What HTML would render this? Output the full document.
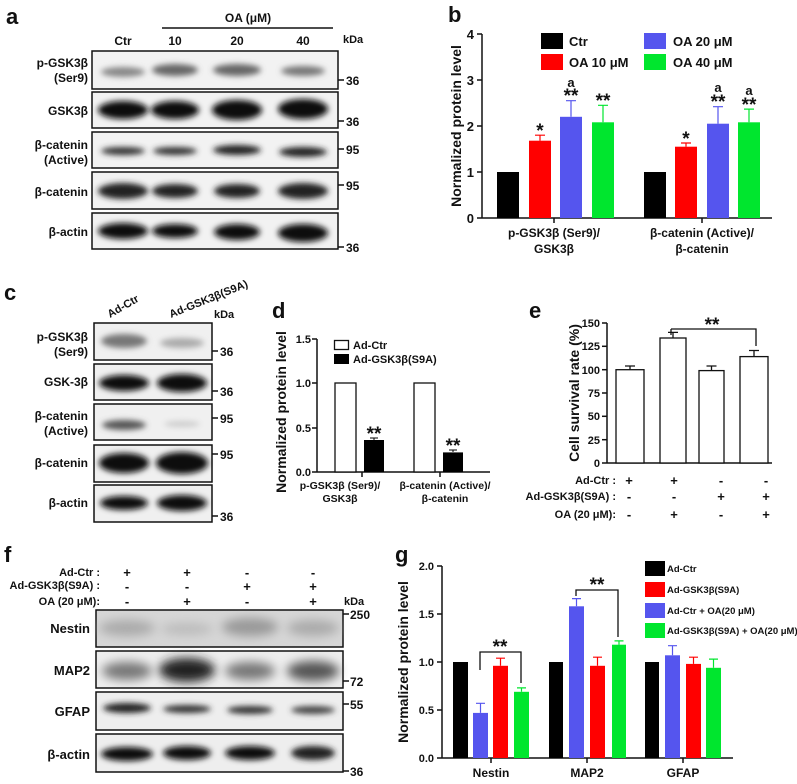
<!DOCTYPE html>
<html><head><meta charset="utf-8"><style>
html,body{margin:0;padding:0;background:#fff}
svg{display:block}
text{font-family:"Liberation Sans",Arial,sans-serif;font-weight:bold;fill:#111}
.st{font-size:19px}
</style></head><body>
<svg width="797" height="784" viewBox="0 0 797 784" xmlns="http://www.w3.org/2000/svg">
<defs>
<filter id="bl" x="-30%" y="-100%" width="160%" height="300%"><feGaussianBlur stdDeviation="3"/></filter>
<filter id="bl2" x="-30%" y="-100%" width="160%" height="300%"><feGaussianBlur stdDeviation="5"/></filter>
</defs>
<!-- ================= Panel a ================= -->
<text x="6" y="24" font-size="22">a</text>
<text x="123" y="45" font-size="12" text-anchor="middle">Ctr</text>
<text x="248" y="22" font-size="12" text-anchor="middle">OA (μM)</text>
<line x1="162" y1="28" x2="333" y2="28" stroke="#111" stroke-width="1.5"/>
<text x="175" y="45" font-size="12" text-anchor="middle">10</text>
<text x="237" y="45" font-size="12" text-anchor="middle">20</text>
<text x="303" y="45" font-size="12" text-anchor="middle">40</text>
<text x="343" y="43" font-size="11">kDa</text>
<g fill="#f2f2f2" stroke="#111" stroke-width="1.5">
<rect x="92" y="51" width="246" height="38"/><rect x="92" y="92" width="246" height="36"/>
<rect x="92" y="132" width="246" height="36"/><rect x="92" y="172" width="246" height="37"/>
<rect x="92" y="213" width="246" height="36"/></g>
<g filter="url(#bl)">
<g fill="#666"><ellipse cx="123" cy="72" rx="22" ry="5" fill="#888"/><ellipse cx="175" cy="70" rx="23" ry="6"/><ellipse cx="237" cy="70" rx="24" ry="6"/><ellipse cx="303" cy="71" rx="22" ry="5" fill="#777"/></g>
<g fill="#111"><ellipse cx="123" cy="110" rx="25" ry="9"/><ellipse cx="175" cy="110" rx="24" ry="9"/><ellipse cx="237" cy="110" rx="25" ry="10"/><ellipse cx="303" cy="109" rx="25" ry="10"/></g>
<g fill="#333"><ellipse cx="123" cy="151" rx="22" ry="4"/><ellipse cx="175" cy="151" rx="22" ry="4"/><ellipse cx="237" cy="150" rx="24" ry="5" fill="#222"/><ellipse cx="303" cy="152" rx="24" ry="5" fill="#222"/></g>
<g fill="#222"><ellipse cx="123" cy="191" rx="25" ry="8"/><ellipse cx="175" cy="191" rx="23" ry="7"/><ellipse cx="237" cy="191" rx="23" ry="7"/><ellipse cx="303" cy="191" rx="25" ry="8"/></g>
<g fill="#111"><ellipse cx="123" cy="231" rx="25" ry="8"/><ellipse cx="175" cy="231" rx="23" ry="7"/><ellipse cx="237" cy="232" rx="23" ry="8"/><ellipse cx="303" cy="233" rx="25" ry="9"/></g>
</g>
<g font-size="12" text-anchor="end">
<text x="88" y="67">p-GSK3β</text><text x="88" y="82">(Ser9)</text>
<text x="88" y="115">GSK3β</text>
<text x="88" y="149">β-catenin</text><text x="88" y="164">(Active)</text>
<text x="88" y="196">β-catenin</text>
<text x="88" y="236">β-actin</text></g>
<g stroke="#111" stroke-width="1.5"><line x1="338" y1="80" x2="344" y2="80"/><line x1="338" y1="121" x2="344" y2="121"/><line x1="338" y1="149" x2="344" y2="149"/><line x1="338" y1="185" x2="344" y2="185"/><line x1="338" y1="247" x2="344" y2="247"/></g>
<g font-size="12"><text x="346" y="85">36</text><text x="346" y="126">36</text><text x="346" y="154">95</text><text x="346" y="190">95</text><text x="346" y="252">36</text></g>

<!-- ================= Panel b ================= -->
<text x="448" y="22" font-size="22">b</text>
<g stroke="#111" stroke-width="1.5"><line x1="482" y1="34" x2="482" y2="218"/><line x1="482" y1="218" x2="772" y2="218"/>
<line x1="477" y1="34" x2="482" y2="34"/><line x1="477" y1="80" x2="482" y2="80"/><line x1="477" y1="126" x2="482" y2="126"/><line x1="477" y1="172" x2="482" y2="172"/><line x1="477" y1="218" x2="482" y2="218"/>
<line x1="554" y1="218" x2="554" y2="223"/><line x1="702" y1="218" x2="702" y2="223"/></g>
<g font-size="13" text-anchor="end"><text x="474" y="39">4</text><text x="474" y="85">3</text><text x="474" y="131">2</text><text x="474" y="177">1</text><text x="474" y="223">0</text></g>
<text transform="translate(461,126) rotate(-90)" font-size="14" text-anchor="middle">Normalized protein level</text>
<g>
<rect x="497" y="172" width="22" height="46" fill="#000"/>
<rect x="529" y="140.7" width="22" height="77.3" fill="#f00"/>
<rect x="560" y="116.8" width="22" height="101.2" fill="#5555ee"/>
<rect x="592" y="122.3" width="22" height="95.7" fill="#00e62e"/>
<rect x="644" y="172" width="22" height="46" fill="#000"/>
<rect x="675" y="146.7" width="22" height="71.3" fill="#f00"/>
<rect x="707" y="123.7" width="22" height="94.3" fill="#5555ee"/>
<rect x="738" y="122.3" width="22" height="95.7" fill="#00e62e"/>
</g>
<g stroke-width="1.2">
<path d="M540 140.7V135.2M535 135.2H545" stroke="#f00"/>
<path d="M571 116.8V100.7M566 100.7H576" stroke="#5555ee"/>
<path d="M603 122.3V105.3M598 105.3H608" stroke="#00e62e"/>
<path d="M686 146.7V143M681 143H691" stroke="#f00"/>
<path d="M718 123.7V106.7M713 106.7H723" stroke="#5555ee"/>
<path d="M749 122.3V109.1M744 109.1H754" stroke="#00e62e"/>
</g>
<g text-anchor="middle">
<text class="st" x="540" y="137">*</text><text class="st" x="571" y="102">**</text><text x="571" y="87" font-size="13" font-weight="normal">a</text>
<text class="st" x="603" y="107">**</text>
<text class="st" x="686" y="145">*</text><text class="st" x="718" y="108">**</text><text x="718" y="92" font-size="13" font-weight="normal">a</text>
<text class="st" x="749" y="111">**</text><text x="749" y="95" font-size="13" font-weight="normal">a</text>
</g>
<rect x="541" y="33" width="22" height="16" fill="#000"/>
<rect x="541" y="54" width="22" height="16" fill="#f00"/>
<rect x="644" y="33" width="22" height="16" fill="#5555ee"/>
<rect x="644" y="54" width="22" height="16" fill="#00e62e"/>
<g font-size="13"><text x="569" y="46">Ctr</text><text x="569" y="67">OA 10 μM</text><text x="673" y="46">OA 20 μM</text><text x="673" y="67">OA 40 μM</text></g>
<g font-size="12" text-anchor="middle"><text x="554" y="237">p-GSK3β (Ser9)/</text><text x="554" y="253">GSK3β</text>
<text x="702" y="237">β-catenin (Active)/</text><text x="702" y="253">β-catenin</text></g>

<!-- ================= Panel c ================= -->
<text x="4" y="300" font-size="22">c</text>
<text transform="translate(110,318) rotate(-30)" font-size="11">Ad-Ctr</text>
<text transform="translate(171,318) rotate(-22)" font-size="11">Ad-GSK3β(S9A)</text>
<text x="214" y="318" font-size="11">kDa</text>
<g fill="#f0f0f0" stroke="#111" stroke-width="1.5">
<rect x="94" y="323" width="118" height="37"/><rect x="94" y="364" width="118" height="36"/>
<rect x="94" y="404" width="118" height="36"/><rect x="94" y="445" width="118" height="37"/>
<rect x="94" y="485" width="118" height="37"/></g>
<g filter="url(#bl)">
<ellipse cx="124" cy="341" rx="23" ry="7" fill="#777"/><ellipse cx="182" cy="343" rx="22" ry="5" fill="#aaa"/>
<ellipse cx="124" cy="383" rx="25" ry="8" fill="#111"/><ellipse cx="182" cy="383" rx="25" ry="9" fill="#111"/>
<ellipse cx="124" cy="425" rx="22" ry="5" fill="#555"/><ellipse cx="182" cy="424" rx="18" ry="3" fill="#ccc"/>
<ellipse cx="124" cy="463" rx="25" ry="10" fill="#111"/><ellipse cx="182" cy="463" rx="26" ry="11" fill="#111"/>
<ellipse cx="124" cy="503" rx="24" ry="7" fill="#111"/><ellipse cx="182" cy="503" rx="25" ry="8" fill="#111"/>
</g>
<g font-size="12" text-anchor="end">
<text x="88" y="341">p-GSK3β</text><text x="88" y="356">(Ser9)</text>
<text x="88" y="386">GSK-3β</text>
<text x="88" y="420">β-catenin</text><text x="88" y="435">(Active)</text>
<text x="88" y="467">β-catenin</text>
<text x="88" y="507">β-actin</text></g>
<g stroke="#111" stroke-width="1.5"><line x1="212" y1="351" x2="218" y2="351"/><line x1="212" y1="391" x2="218" y2="391"/><line x1="212" y1="418" x2="218" y2="418"/><line x1="212" y1="454" x2="218" y2="454"/><line x1="212" y1="516" x2="218" y2="516"/></g>
<g font-size="12"><text x="220" y="356">36</text><text x="220" y="396">36</text><text x="220" y="423">95</text><text x="220" y="459">95</text><text x="220" y="521">36</text></g>

<!-- ================= Panel d ================= -->
<text x="272" y="318" font-size="22" font-weight="normal">d</text>
<g stroke="#111" stroke-width="1.5"><line x1="317" y1="339" x2="317" y2="472"/><line x1="317" y1="472" x2="490" y2="472"/>
<line x1="312" y1="339" x2="317" y2="339"/><line x1="312" y1="383" x2="317" y2="383"/><line x1="312" y1="428" x2="317" y2="428"/><line x1="312" y1="472" x2="317" y2="472"/>
<line x1="362" y1="472" x2="362" y2="477"/><line x1="440" y1="472" x2="440" y2="477"/></g>
<g font-size="11" text-anchor="end"><text x="311" y="343">1.5</text><text x="311" y="387">1.0</text><text x="311" y="432">0.5</text><text x="311" y="476">0.0</text></g>
<text transform="translate(286,412) rotate(-90)" font-size="14" text-anchor="middle">Normalized protein level</text>
<rect x="335" y="383" width="21" height="89" fill="#fff" stroke="#111" stroke-width="1.3"/>
<rect x="364" y="440" width="20" height="32" fill="#000"/>
<path d="M374 440V438M370 438H378" stroke="#000"/>
<rect x="414" y="383" width="21" height="89" fill="#fff" stroke="#111" stroke-width="1.3"/>
<rect x="443" y="452.4" width="20" height="19.6" fill="#000"/>
<path d="M453 452V450M449 450H457" stroke="#000"/>
<g text-anchor="middle"><text class="st" x="374" y="440">**</text><text class="st" x="453" y="452">**</text></g>
<rect x="334.5" y="340.5" width="14" height="9" fill="#fff" stroke="#111" stroke-width="1.3"/>
<rect x="334" y="354" width="15" height="10" fill="#000"/>
<g font-size="11"><text x="353" y="349">Ad-Ctr</text><text x="353" y="363">Ad-GSK3β(S9A)</text></g>
<g font-size="10.5" text-anchor="middle"><text x="340" y="489">p-GSK3β (Ser9)/</text><text x="340" y="502">GSK3β</text>
<text x="445" y="489">β-catenin (Active)/</text><text x="445" y="502">β-catenin</text></g>

<!-- ================= Panel e ================= -->
<text x="529" y="318" font-size="22" font-weight="normal">e</text>
<g stroke="#111" stroke-width="1.5"><line x1="607" y1="323" x2="607" y2="463"/><line x1="607" y1="463" x2="772" y2="463"/></g>
<g stroke="#111" stroke-width="1.5">
<line x1="602" y1="323" x2="607" y2="323"/><line x1="602" y1="346.3" x2="607" y2="346.3"/><line x1="602" y1="369.7" x2="607" y2="369.7"/><line x1="602" y1="393" x2="607" y2="393"/><line x1="602" y1="416.3" x2="607" y2="416.3"/><line x1="602" y1="439.7" x2="607" y2="439.7"/><line x1="602" y1="463" x2="607" y2="463"/></g>
<g font-size="11" text-anchor="end"><text x="600" y="327">150</text><text x="600" y="350">125</text><text x="600" y="374">100</text><text x="600" y="397">75</text><text x="600" y="420">50</text><text x="600" y="444">25</text><text x="600" y="467">0</text></g>
<text transform="translate(579,393) rotate(-90)" font-size="14" text-anchor="middle">Cell survival rate (%)</text>
<g fill="#fff" stroke="#111" stroke-width="1.3">
<rect x="616" y="369.7" width="28" height="93.3"/><rect x="660" y="338" width="26" height="125"/>
<rect x="699" y="370.6" width="25" height="92.4"/><rect x="740" y="356.6" width="28" height="106.4"/></g>
<path d="M630 369.7V366M625 366H635M673 338V332.4M668 332.4H678M711.5 370.6V366M706.5 366H716.5M754 356.6V350.5M749 350.5H759" stroke="#111" stroke-width="1.3" fill="none"/>
<path d="M671 329V335M671 329H756V346" stroke="#111" stroke-width="1.3" fill="none"/>
<text class="st" x="712" y="331" text-anchor="middle">**</text>
<g font-size="11" text-anchor="end"><text x="616" y="484">Ad-Ctr :</text><text x="616" y="500">Ad-GSK3β(S9A) :</text><text x="616" y="518">OA (20 μM):</text></g>
<g font-size="13" text-anchor="middle">
<text x="629" y="485">+</text><text x="674" y="485">+</text><text x="721" y="485">-</text><text x="766" y="485">-</text>
<text x="629" y="501">-</text><text x="674" y="501">-</text><text x="721" y="501">+</text><text x="766" y="501">+</text>
<text x="629" y="519">-</text><text x="674" y="519">+</text><text x="721" y="519">-</text><text x="766" y="519">+</text></g>

<!-- ================= Panel f ================= -->
<text x="4" y="562" font-size="22">f</text>
<g font-size="11" text-anchor="end"><text x="100" y="576">Ad-Ctr :</text><text x="100" y="589">Ad-GSK3β(S9A) :</text><text x="100" y="605">OA (20 μM):</text></g>
<g font-size="13" text-anchor="middle">
<text x="127" y="577">+</text><text x="187" y="577">+</text><text x="247" y="577">-</text><text x="313" y="577">-</text>
<text x="127" y="591">-</text><text x="187" y="591">-</text><text x="247" y="591">+</text><text x="313" y="591">+</text>
<text x="127" y="606">-</text><text x="187" y="606">+</text><text x="247" y="606">-</text><text x="313" y="606">+</text></g>
<text x="344" y="605" font-size="11">kDa</text>
<g fill="#eee" stroke="#111" stroke-width="1.5">
<rect x="96" y="610" width="247" height="37" fill="#d6d6d6"/><rect x="96" y="651" width="247" height="37"/>
<rect x="96" y="692" width="247" height="38"/><rect x="96" y="734" width="247" height="38"/></g>
<g filter="url(#bl2)">
<ellipse cx="127" cy="628" rx="28" ry="8" fill="#aaa"/><ellipse cx="187" cy="629" rx="26" ry="6" fill="#bbb"/><ellipse cx="250" cy="627" rx="28" ry="9" fill="#999"/><ellipse cx="313" cy="628" rx="26" ry="8" fill="#aaa"/>
<ellipse cx="127" cy="671" rx="25" ry="9" fill="#777"/><ellipse cx="187" cy="670" rx="28" ry="12" fill="#222"/><ellipse cx="250" cy="671" rx="25" ry="9" fill="#777"/><ellipse cx="313" cy="671" rx="26" ry="10" fill="#555"/>
</g>
<g filter="url(#bl)">
<ellipse cx="127" cy="708" rx="24" ry="5" fill="#222"/><ellipse cx="187" cy="709" rx="24" ry="4" fill="#333"/><ellipse cx="250" cy="710" rx="23" ry="4" fill="#333"/><ellipse cx="313" cy="710" rx="22" ry="4" fill="#444"/>
<ellipse cx="127" cy="754" rx="26" ry="7" fill="#111"/><ellipse cx="187" cy="753" rx="24" ry="7" fill="#111"/><ellipse cx="250" cy="753" rx="25" ry="7" fill="#111"/><ellipse cx="313" cy="753" rx="22" ry="7" fill="#222"/>
</g>
<g font-size="13" text-anchor="end"><text x="90" y="633">Nestin</text><text x="90" y="675">MAP2</text><text x="90" y="716">GFAP</text><text x="90" y="759">β-actin</text></g>
<g stroke="#111" stroke-width="1.5"><line x1="343" y1="614" x2="349" y2="614"/><line x1="343" y1="681" x2="349" y2="681"/><line x1="343" y1="704" x2="349" y2="704"/><line x1="343" y1="771" x2="349" y2="771"/></g>
<g font-size="12"><text x="350" y="619">250</text><text x="350" y="686">72</text><text x="350" y="709">55</text><text x="350" y="776">36</text></g>

<!-- ================= Panel g ================= -->
<text x="395" y="562" font-size="22" font-weight="normal">g</text>
<g stroke="#111" stroke-width="1.5"><line x1="442" y1="566" x2="442" y2="758"/><line x1="442" y1="758" x2="733" y2="758"/>
<line x1="437" y1="566" x2="442" y2="566"/><line x1="437" y1="614" x2="442" y2="614"/><line x1="437" y1="662" x2="442" y2="662"/><line x1="437" y1="710" x2="442" y2="710"/><line x1="437" y1="758" x2="442" y2="758"/>
<line x1="491" y1="758" x2="491" y2="763"/><line x1="587" y1="758" x2="587" y2="763"/><line x1="683" y1="758" x2="683" y2="763"/></g>
<g font-size="11" text-anchor="end"><text x="434" y="570">2.0</text><text x="434" y="618">1.5</text><text x="434" y="666">1.0</text><text x="434" y="714">0.5</text><text x="434" y="762">0.0</text></g>
<text transform="translate(408,662) rotate(-90)" font-size="14" text-anchor="middle">Normalized protein level</text>
<g>
<rect x="453" y="662" width="15" height="96" fill="#000"/>
<rect x="473" y="712.9" width="15" height="45.1" fill="#5555ee"/>
<rect x="493" y="665.8" width="15" height="92.2" fill="#f00"/>
<rect x="514" y="691.8" width="15" height="66.2" fill="#00e62e"/>
<rect x="549" y="662" width="14" height="96" fill="#000"/>
<rect x="569" y="606.3" width="15" height="151.7" fill="#5555ee"/>
<rect x="590" y="665.8" width="15" height="92.2" fill="#f00"/>
<rect x="612" y="644.7" width="14" height="113.3" fill="#00e62e"/>
<rect x="645" y="662" width="14" height="96" fill="#000"/>
<rect x="665" y="655.3" width="15" height="102.7" fill="#5555ee"/>
<rect x="686" y="663.9" width="15" height="94.1" fill="#f00"/>
<rect x="706" y="667.8" width="15" height="90.2" fill="#00e62e"/>
</g>
<g stroke-width="1.2" fill="none">
<path d="M480.5 712.9V703.3M476 703.3H485" stroke="#5555ee"/>
<path d="M500.5 665.8V658.2M496 658.2H505" stroke="#f00"/>
<path d="M521.5 691.8V687.9M517 687.9H526" stroke="#00e62e"/>
<path d="M576.5 606.3V598.6M572 598.6H581" stroke="#5555ee"/>
<path d="M597.5 665.8V657.2M593 657.2H602" stroke="#f00"/>
<path d="M619 644.7V640.9M614.5 640.9H623.5" stroke="#00e62e"/>
<path d="M672.5 655.3V645.7M668 645.7H677" stroke="#5555ee"/>
<path d="M693.5 663.9V657.2M689 657.2H698" stroke="#f00"/>
<path d="M713.5 667.8V659.1M709 659.1H718" stroke="#00e62e"/>
</g>
<path d="M480 670V652H521V683" stroke="#111" stroke-width="1.3" fill="none"/>
<path d="M576 596V590H618V637" stroke="#111" stroke-width="1.3" fill="none"/>
<g text-anchor="middle"><text class="st" x="500" y="653">**</text><text class="st" x="597" y="591">**</text></g>
<rect x="645" y="561" width="20" height="15" fill="#000"/>
<rect x="645" y="582" width="20" height="15" fill="#f00"/>
<rect x="645" y="603" width="20" height="15" fill="#5555ee"/>
<rect x="645" y="623" width="20" height="15" fill="#00e62e"/>
<g font-size="9.5"><text x="667" y="572">Ad-Ctr</text><text x="667" y="593">Ad-GSK3β(S9A)</text><text x="667" y="614">Ad-Ctr + OA(20 μM)</text><text x="667" y="634">Ad-GSK3β(S9A) + OA(20 μM)</text></g>
<g font-size="12" text-anchor="middle"><text x="491" y="777">Nestin</text><text x="587" y="777">MAP2</text><text x="683" y="777">GFAP</text></g>
</svg>
</body></html>
